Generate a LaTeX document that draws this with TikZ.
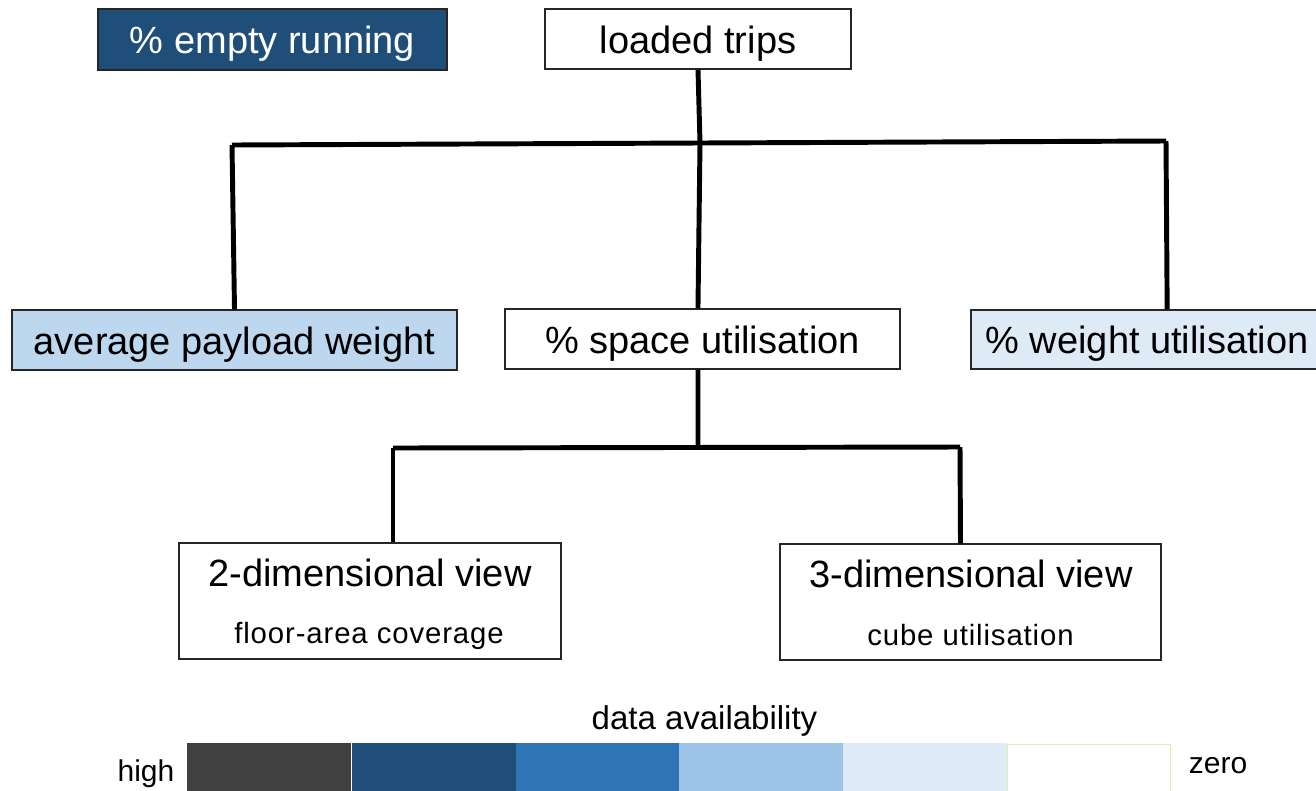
\documentclass[tikz,border=0pt]{standalone}
\usepackage{fontspec}
\setmainfont{Liberation Sans}

\definecolor{frame}{HTML}{262626}
\definecolor{availA}{HTML}{404040}
\definecolor{availB}{HTML}{1F4E79}
\definecolor{availC}{HTML}{2E75B6}
\definecolor{availD}{HTML}{9DC3E6}
\definecolor{availE}{HTML}{DEEBF7}
\definecolor{availEdge}{HTML}{D4F5A6}
\definecolor{payloadfill}{HTML}{BDD7EE}

\begin{document}
\begin{tikzpicture}[
  x=0.75pt, y=-0.75pt,
  kpi/.style={draw=frame, line width=1.1pt, rectangle, inner sep=0pt,
    text height=21pt, text depth=0pt,
    font=\fontsize{28.5}{34}\selectfont},
  subkpi/.style={font=\fontsize{22}{27}\selectfont, inner sep=0pt, anchor=base},
  bigtext/.style={font=\fontsize{28.5}{34}\selectfont, inner sep=0pt, anchor=base},
  link/.style={line width=3.7pt, black},
  cell/.style={rectangle, inner sep=0pt, anchor=north west,
    minimum width=123pt, minimum height=37.5pt},
  legendtext/.style={inner sep=0pt, anchor=base, font=\fontsize{22.5}{27}\selectfont}
]
\useasboundingbox (0,0) rectangle (1316,790);
\clip (0,0) rectangle (1316,790);

% measure boxes
\node[kpi, fill=availB, text=white, minimum width=261.75pt, minimum height=45.75pt]
  (empty) at (272.5,39.5) {\% empty running};
\node[kpi, fill=white, minimum width=229.5pt, minimum height=45pt]
  (loaded) at (698,39) {loaded trips};
\node[kpi, fill=payloadfill, minimum width=333.75pt, minimum height=45pt]
  (payload) at (234.5,340) {average payload weight};
\node[kpi, fill=white, minimum width=296.25pt, minimum height=45pt]
  (space) at (702.5,339) {\% space utilisation};
\node[kpi, fill=availE, minimum width=266.25pt, minimum height=44.25pt]
  (weight) at (1148.5,339.5) {\hspace*{-2pt}\% weight utilisation};
\node[draw=frame, line width=1.1pt, rectangle, inner sep=0pt, fill=white,
  minimum width=286.5pt, minimum height=87pt] (twoD) at (370,601) {};
\node[draw=frame, line width=1.1pt, rectangle, inner sep=0pt, fill=white,
  minimum width=285.75pt, minimum height=87pt] (threeD) at (970.5,602) {};

% labels inside the view boxes
\node[bigtext] (twoDtitle) at (370,586) {2-dimensional view};
\node[subkpi] (twoDsub) at (369,643) {\addfontfeature{LetterSpace=3}floor-area coverage};
\node[bigtext] (threeDtitle) at (971,587.5) {3-dimensional view};
\node[subkpi] (threeDsub) at (970.5,645) {\addfontfeature{LetterSpace=3}cube utilisation};

% tree connectors, upper level
\coordinate (busL) at (232,145);
\coordinate (busM) at (700,143);
\coordinate (busR) at (1166,141);
\draw[link] (loaded.south) -- (busM);
\draw[link] (busL) -- (busR);
\draw[link] (busL) -- (payload.north);
\draw[link] (busM) -- ([xshift=-3.4pt]space.north);
\draw[link] (busR) -- ([xshift=14pt]weight.north);

% tree connectors, lower level
\coordinate (subL) at (393,448);
\coordinate (subM) at (698,447);
\coordinate (subR) at (960,447);
\draw[link] ([xshift=-3.4pt]space.south) -- (subM);
\draw[link] (subL) -- (subR);
\draw[link] (subL) -- ([xshift=17.25pt]twoD.north);
\draw[link] (subR) -- ([xshift=-7.5pt]threeD.north);

% data availability scale
\node[inner sep=0pt, anchor=base, font=\fontsize{24.75}{30}\selectfont]
  (scaletitle) at (704.5,729) {data availability};
\node[cell, fill=availA] (s1) at (187,743) {};
\node[cell, fill=availB] (s2) at (351.5,743) {};
\node[cell, fill=availC] (s3) at (515.5,743) {};
\node[cell, fill=availD] (s4) at (679,743) {};
\node[cell, fill=availE] (s5) at (842.5,743) {};
\node[cell, fill=white, draw=availEdge, line width=1pt, minimum width=122pt]
  (s6) at (1007,743.5) {};
\node[legendtext] (hightext) at (146,781) {high};
\node[legendtext] (zerotext) at (1218,773) {zero};
\end{tikzpicture}
\end{document}
